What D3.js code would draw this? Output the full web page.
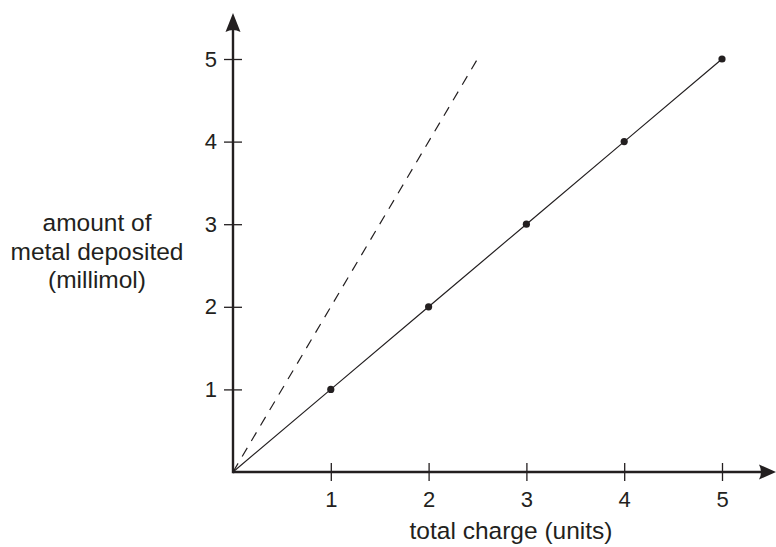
<!DOCTYPE html>
<html>
<head>
<meta charset="utf-8">
<script src="https://cdn.jsdelivr.net/npm/d3@7"></script>
<style>
  body { margin: 0; background: #fff; }
  text { font-family: "Liberation Sans", Arial, sans-serif; fill: #231f20; }
</style>
</head>
<body>
<div id="chart"></div>
<script>
// data
var charge = [1, 2, 3, 4, 5];
var deposited = [1, 2, 3, 4, 5];
var tickValues = [1, 2, 3, 4, 5];
// dashed reference line, start and end point
var dashedX = [0, 2.5];
var dashedY = [0, 5];

var width = 776, height = 547;
var ink = "#231f20";

var svg = d3.select("#chart").append("svg")
    .attr("width", width)
    .attr("height", height);

var xScale = d3.scaleLinear()
    .domain([0, 5])
    .range([233, 722]);

var yScale = d3.scaleLinear()
    .domain([0, 5])
    .range([472, 59]);

// x axis ticks (crossing the axis line)
var xAxis = d3.axisBottom(xScale).tickValues(tickValues).tickFormat(d3.format("d"))
    .tickSize(9).tickPadding(10);
var gx = svg.append("g")
    .attr("transform", "translate(0," + yScale(0) + ")")
    .call(xAxis);
gx.select(".domain").remove();
gx.selectAll(".tick line").attr("y1", -9).attr("stroke", ink).attr("stroke-width", 1.3);
gx.selectAll(".tick text").style("font-size", "22px").attr("fill", ink);

// y axis ticks
var yAxis = d3.axisLeft(yScale).tickValues(tickValues).tickFormat(d3.format("d"))
    .tickSize(9).tickPadding(7);
var gy = svg.append("g")
    .attr("transform", "translate(" + xScale(0) + ",0)")
    .call(yAxis);
gy.select(".domain").remove();
gy.selectAll(".tick line").attr("x1", 9).attr("stroke", ink).attr("stroke-width", 1.3);
gy.selectAll(".tick text").style("font-size", "22px").attr("fill", ink);

// axis lines with arrow heads
var x0 = xScale(0), y0 = yScale(0);
svg.append("line")
    .attr("x1", x0).attr("y1", y0)
    .attr("x2", 762).attr("y2", y0)
    .attr("stroke", ink).attr("stroke-width", 2.4);
svg.append("line")
    .attr("x1", x0).attr("y1", y0 + 1.2)
    .attr("x2", x0).attr("y2", 30)
    .attr("stroke", ink).attr("stroke-width", 2.4);

svg.append("path")
    .attr("d", "M776," + y0 + " L759," + (y0 - 7.5) + " Q763," + y0 + " 759," + (y0 + 7.5) + " Z")
    .attr("fill", ink);
svg.append("path")
    .attr("d", "M" + x0 + ",13 L" + (x0 - 7.5) + ",32 Q" + x0 + ",28 " + (x0 + 7.5) + ",32 Z")
    .attr("fill", ink);

// dashed line
svg.append("line")
    .attr("x1", xScale(dashedX[0])).attr("y1", yScale(dashedY[0]))
    .attr("x2", xScale(dashedX[1])).attr("y2", yScale(dashedY[1]))
    .attr("stroke", ink).attr("stroke-width", 1.2)
    .attr("stroke-dasharray", "10,8");

// solid line through the points, starting at the origin
var points = [[0, 0]].concat(charge.map(function(d, i) { return [d, deposited[i]]; }));
var line = d3.line()
    .x(function(d) { return xScale(d[0]); })
    .y(function(d) { return yScale(d[1]); });
svg.append("path")
    .datum(points)
    .attr("d", line)
    .attr("fill", "none")
    .attr("stroke", ink)
    .attr("stroke-width", 1.2);

svg.selectAll("circle")
    .data(charge)
    .enter()
    .append("circle")
    .attr("cx", function(d) { return xScale(d); })
    .attr("cy", function(d, i) { return yScale(deposited[i]); })
    .attr("r", 3.6)
    .attr("fill", ink);

// axis titles
svg.append("text")
    .attr("x", 511)
    .attr("y", 539)
    .attr("text-anchor", "middle")
    .style("font-size", "24.5px")
    .text("total charge (units)");

var yTitle = ["amount of", "metal deposited", "(millimol)"];
svg.selectAll(".ytitle")
    .data(yTitle)
    .enter()
    .append("text")
    .attr("class", "ytitle")
    .attr("x", 97)
    .attr("y", function(d, i) { return 231 + i * 28.5; })
    .attr("text-anchor", "middle")
    .style("font-size", "24.5px")
    .text(function(d) { return d; });
</script>
</body>
</html>
